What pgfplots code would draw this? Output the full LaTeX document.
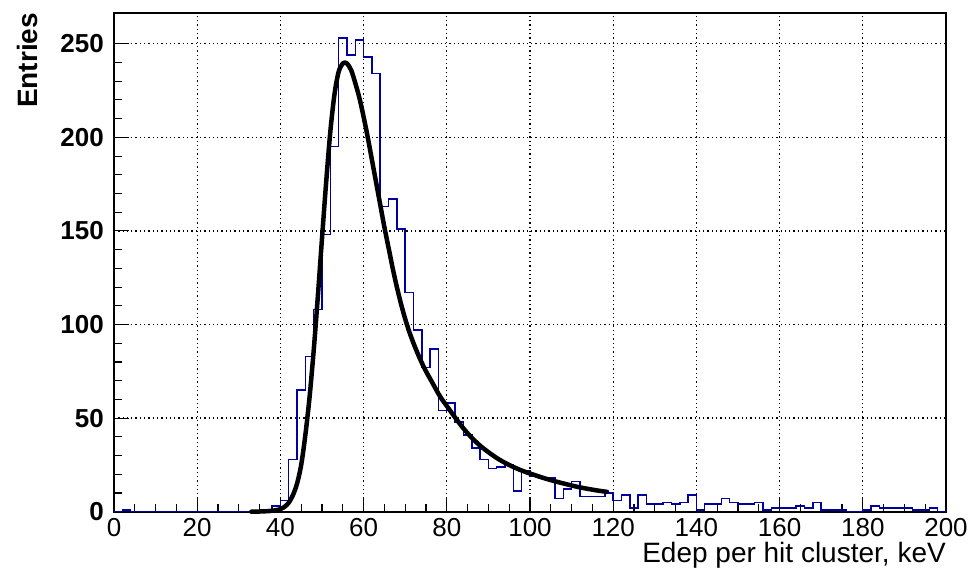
\documentclass[border=0pt]{standalone}
\usepackage{fontspec}
\setmainfont{Liberation Sans}
\usepackage{pgfplots}
\pgfplotsset{compat=1.18}
\definecolor{histblue}{RGB}{0,0,160}
\begin{document}
\begin{tikzpicture}
\begin{axis}[
  scale only axis,
  width=832pt, height=499pt,
  xmin=0, xmax=200, ymin=0, ymax=266.6,
  xtick={0,20,...,200}, ytick={0,50,...,250},
  minor x tick num=3, minor y tick num=4,
  tick align=inside, xtick pos=left, ytick pos=left,
  major tick length=15pt, minor tick length=8pt,
  every tick/.style={black, line width=1.1pt},
  axis line style={line width=1.8pt},
  grid=major,
  major grid style={black, line width=1.3pt, dash pattern=on 1.3pt off 3pt},
  /pgf/number format/assume math mode=true,
  xticklabel style={font=\fontsize{26}{30}\selectfont, inner sep=0pt, anchor=north, yshift=-6pt},
  yticklabel style={font=\bfseries\fontsize{26}{30}\selectfont, inner sep=0pt, anchor=east, xshift=-10pt},
  xlabel={Edep per hit cluster, keV},
  ylabel={Entries},
  every axis x label/.style={at={(axis description cs:1,-0.1028)}, anchor=base east, inner sep=0pt, font=\fontsize{28}{32}\selectfont},
  every axis y label/.style={at={(axis description cs:-0.0925,1)}, rotate=90, anchor=base east, inner sep=0pt, font=\bfseries\fontsize{28}{32}\selectfont},
  clip=false,
]
\addplot[histblue, line width=1.5pt, const plot mark left] coordinates {
(0,0) (2,1) (4,0) (6,0) (8,0) (10,0) (12,0) (14,0) (16,0) (18,0)
(20,0) (22,0) (24,0) (26,0) (28,0) (30,0) (32,0) (34,0) (36,0) (38,3)
(40,6) (42,28) (44,65) (46,83) (48,108) (50,148) (52,195) (54,253) (56,244) (58,252)
(60,243) (62,234) (64,163) (66,167) (68,151) (70,117) (72,97) (74,77) (76,87) (78,54)
(80,58) (82,48) (84,41) (86,34) (88,28) (90,23) (92,24) (94,25) (96,11) (98,22)
(100,19) (102,18) (104,18) (106,7) (108,12) (110,16) (112,8) (114,8) (116,8) (118,10)
(120,6) (122,9) (124,2) (126,9) (128,4) (130,4) (132,5) (134,4) (136,5) (138,9)
(140,1) (142,4) (144,4) (146,7) (148,5) (150,4) (152,4) (154,5) (156,1) (158,2)
(160,2) (162,2) (164,3) (166,2) (168,5) (170,1) (172,1) (174,1) (176,0) (178,0)
(180,1) (182,3) (184,2) (186,2) (188,2) (190,2) (192,1) (194,1) (196,2) (198,0)
(200,0)
};
\addplot[black, line width=4.5pt, line join=round, line cap=round, smooth] coordinates {
(33,0) (35,0.1) (37,0.3) (39,0.8) (40,1.4) (41,2.6) (42,4.8) (43,8.8) (44,15) (45,25)
(46,41) (47,61) (48,86) (49,115) (50,146) (51,176) (52,203) (53,223) (54,235) (55,239.5)
(55.5,240) (56,239.5) (57,236) (58,229) (59,221) (60,211) (61,200) (62,188) (63,176) (64,164)
(65,152) (66,141) (67,130) (68,120) (69,111) (70,103) (71,96) (72,90) (73,84.5) (74,79.5)
(75,75) (76,71) (77,67) (78,63) (79,59.5) (80,56.5) (82,50.3) (84,44.5) (86,39.5) (88,35.3)
(90,31.8) (92,28.7) (94,26.1) (96,23.9) (98,22) (100,20.4) (104,17.5) (108,15.1) (112,13)
(116,11.4) (118.5,10.6)
};
\end{axis}
\pgfresetboundingbox
\path[use as bounding box] ([xshift=-114pt,yshift=-60.3pt]current axis.south west) rectangle ([xshift=23pt,yshift=12.7pt]current axis.north east);
\end{tikzpicture}
\end{document}
